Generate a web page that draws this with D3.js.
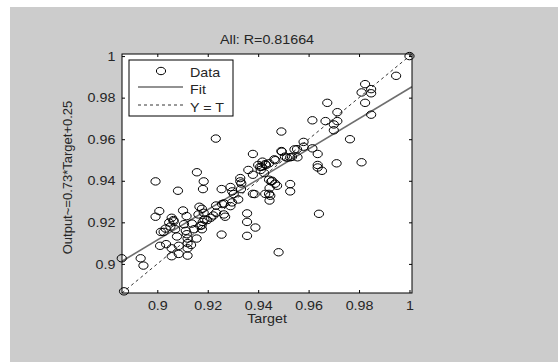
<!DOCTYPE html>
<html>
<head>
<meta charset="utf-8">
<script src="https://cdn.jsdelivr.net/npm/d3@7"></script>
<style>
  html, body { margin: 0; padding: 0; background: #fff; }
  svg { display: block; }
  text { font-family: "Liberation Sans", Arial, sans-serif; fill: #262626; }
</style>
</head>
<body>
<div id="chart"></div>
<script>
// regression plot data (target, output)
const targets = [
  1.0000, 0.9947, 0.9824, 0.9848, 0.9848, 0.9810, 0.9824, 0.9848, 0.9674, 0.9714,
  0.9714, 0.9700, 0.9667, 0.9615, 0.9700, 0.9764, 0.9492, 0.9232, 0.9580, 0.9580,
  0.9544, 0.9492, 0.9379, 0.9615, 0.9636, 0.9636, 0.9636, 0.9653, 0.9711, 0.9810,
  0.9506, 0.9527, 0.9556, 0.9464, 0.9417, 0.9400, 0.9414, 0.9431, 0.9443, 0.9410,
  0.9424, 0.9361, 0.9379, 0.9443, 0.9452, 0.9467, 0.9445, 0.9428, 0.9443, 0.9445,
  0.9527, 0.9527, 0.9379, 0.9329, 0.9329, 0.9332, 0.9321, 0.9290, 0.9297, 0.9255,
  0.9290, 0.9264, 0.9233, 0.9264, 0.9269, 0.9233, 0.9222, 0.9212, 0.9198, 0.9187,
  0.9180, 0.9170, 0.9177, 0.9255, 0.9356, 0.9356, 0.9389, 0.9356, 0.9481, 0.9641,
  0.9184, 0.9181, 0.9157, 0.9167, 0.9177, 0.9163, 0.9184, 0.9156, 0.9082, 0.8993,
  0.9008, 0.8993, 0.9014, 0.9011, 0.9033, 0.9035, 0.9057, 0.9064, 0.9047, 0.9052,
  0.9071, 0.9078, 0.9085, 0.9085, 0.9057, 0.9057, 0.9102, 0.9116, 0.9106, 0.9113,
  0.9117, 0.9120, 0.9120, 0.9120, 0.9120, 0.9134, 0.8934, 0.8945, 0.8859, 0.8868,
  0.9146, 0.9494, 0.9554, 0.9468, 0.9514, 0.9534, 0.9428, 0.9408, 0.9455, 0.9475,
  0.9448, 0.9303, 0.9257, 0.9386, 0.9333, 0.9296, 0.9176, 0.9137, 0.9065, 0.9025
];
const outputs = [
  1.0000, 0.9905, 0.9865, 0.9841, 0.9821, 0.9825, 0.9775, 0.9718, 0.9775, 0.9730,
  0.9687, 0.9671, 0.9687, 0.9691, 0.9643, 0.9600, 0.9637, 0.9603, 0.9587, 0.9564,
  0.9551, 0.9543, 0.9529, 0.9556, 0.9529, 0.9476, 0.9464, 0.9448, 0.9484, 0.9489,
  0.9516, 0.9513, 0.9513, 0.9503, 0.9492, 0.9476, 0.9468, 0.9476, 0.9484, 0.9452,
  0.9437, 0.9452, 0.9429, 0.9405, 0.9397, 0.9386, 0.9365, 0.9337, 0.9337, 0.9305,
  0.9384, 0.9349, 0.9337, 0.9413, 0.9397, 0.9360, 0.9310, 0.9370, 0.9349, 0.9360,
  0.9278, 0.9291, 0.9281, 0.9238, 0.9227, 0.9246, 0.9233, 0.9222, 0.9211, 0.9214,
  0.9202, 0.9183, 0.9167, 0.9141, 0.9243, 0.9202, 0.9175, 0.9135, 0.9056, 0.9241,
  0.9397, 0.9360, 0.9441, 0.9275, 0.9265, 0.9238, 0.9246, 0.9122, 0.9352, 0.9397,
  0.9254, 0.9227, 0.9154, 0.9087, 0.9170, 0.9095, 0.9222, 0.9211, 0.9199, 0.9180,
  0.9167, 0.9132, 0.9087, 0.9048, 0.9075, 0.9037, 0.9257, 0.9230, 0.9191, 0.9159,
  0.9143, 0.9122, 0.9100, 0.9075, 0.9040, 0.9091, 0.9027, 0.8992, 0.9027, 0.8868,
  0.9167, 0.9540, 0.9552, 0.9499, 0.9511, 0.9515, 0.9480, 0.9467, 0.9400, 0.9376,
  0.9328, 0.9336, 0.9288, 0.9336, 0.9387, 0.9296, 0.9186, 0.9194, 0.9205, 0.9154
];
const xTicks = [0.9, 0.92, 0.94, 0.96, 0.98, 1];
const yTicks = [0.9, 0.92, 0.94, 0.96, 0.98, 1];
const xTickLabels = ["0.9", "0.92", "0.94", "0.96", "0.98", "1"];
const yTickLabels = ["0.9", "0.92", "0.94", "0.96", "0.98", "1"];
const fitSlope = 0.73;
const fitIntercept = 0.2545;
const titleText = "All: R=0.81664";
const xLabel = "Target";
const yLabel = "Output~=0.73*Target+0.25";
const legendItems = ["Data", "Fit", "Y = T"];

const W = 558, H = 362;
const plot = { left: 122, right: 412, top: 54, bottom: 293 };
const lo = 0.886, hi = 1.001;
const fs = '13px';
const stretch = 'scale(1.1,1)'; // the picture is a bit wider than tall

const svg = d3.select('#chart').append('svg')
  .attr('width', W)
  .attr('height', H);

// figure background
svg.append('rect')
  .attr('x', 10).attr('y', 7)
  .attr('width', W - 10).attr('height', H - 7)
  .attr('fill', '#cccccc');

const x = d3.scaleLinear().domain([lo, hi]).range([plot.left, plot.right]);
const y = d3.scaleLinear().domain([lo, hi]).range([plot.bottom, plot.top]);

svg.append('rect')
  .attr('x', plot.left).attr('y', plot.top)
  .attr('width', plot.right - plot.left).attr('height', plot.bottom - plot.top)
  .attr('fill', '#fff');

svg.append('clipPath').attr('id', 'clip')
  .append('rect')
  .attr('x', plot.left).attr('y', plot.top)
  .attr('width', plot.right - plot.left).attr('height', plot.bottom - plot.top);

const g = svg.append('g').attr('clip-path', 'url(#clip)');

// Y = T
g.append('line')
  .attr('x1', x(lo)).attr('y1', y(lo))
  .attr('x2', x(hi)).attr('y2', y(hi))
  .attr('stroke', '#000').attr('stroke-width', 0.8)
  .attr('stroke-dasharray', '3,3');

// fit line
g.append('line')
  .attr('x1', x(lo)).attr('y1', y(fitSlope * lo + fitIntercept))
  .attr('x2', x(hi)).attr('y2', y(fitSlope * hi + fitIntercept))
  .attr('stroke', '#6e6e6e').attr('stroke-width', 1.6);

// data circles
const pts = targets.map((t, i) => [t, outputs[i]]);
svg.append('g').selectAll('ellipse')
  .data(pts)
  .enter()
  .append('ellipse')
  .attr('cx', d => x(d[0]))
  .attr('cy', d => y(d[1]))
  .attr('rx', 4.6).attr('ry', 3.7)
  .attr('fill', 'none')
  .attr('stroke', '#000')
  .attr('stroke-width', 1);

// axes, ticks pointing inward
const fmtX = (d, i) => xTickLabels[i];
const fmtY = (d, i) => yTickLabels[i];
const axB = svg.append('g').attr('transform', `translate(0,${plot.bottom})`)
  .call(d3.axisBottom(x).tickValues(xTicks).tickFormat(fmtX).tickSizeInner(-3).tickSizeOuter(0).tickPadding(8));
const axL = svg.append('g').attr('transform', `translate(${plot.left},0)`)
  .call(d3.axisLeft(y).tickValues(yTicks).tickFormat(fmtY).tickSizeInner(-3).tickSizeOuter(0).tickPadding(6));
const axT = svg.append('g').attr('transform', `translate(0,${plot.top})`)
  .call(d3.axisTop(x).tickValues(xTicks).tickFormat('').tickSizeInner(-3).tickSizeOuter(0));
const axR = svg.append('g').attr('transform', `translate(${plot.right},0)`)
  .call(d3.axisRight(y).tickValues(yTicks).tickFormat('').tickSizeInner(-3).tickSizeOuter(0));

[axB, axL, axT, axR].forEach(a => {
  a.select('.domain').remove();
  a.selectAll('line').attr('stroke', '#000');
  a.selectAll('text')
    .style('font-family', '"Liberation Sans", Arial, sans-serif')
    .style('font-size', fs)
    .attr('fill', '#262626')
    .attr('transform', stretch);
});

svg.append('rect')
  .attr('x', plot.left).attr('y', plot.top)
  .attr('width', plot.right - plot.left).attr('height', plot.bottom - plot.top)
  .attr('fill', 'none').attr('stroke', '#000').attr('stroke-width', 1);

// titles
const cx = (plot.left + plot.right) / 2;
svg.append('text').attr('transform', `translate(${cx},44) ${stretch}`)
  .attr('text-anchor', 'middle').style('font-size', fs).text(titleText);
svg.append('text').attr('transform', `translate(${cx},323) ${stretch}`)
  .attr('text-anchor', 'middle').style('font-size', fs).text(xLabel);
svg.append('text')
  .attr('transform', `translate(72,${(plot.top + plot.bottom) / 2 + 4}) rotate(-90)`)
  .attr('text-anchor', 'middle').style('font-size', fs).text(yLabel);

// legend
const lg = svg.append('g');
lg.append('rect')
  .attr('x', 129).attr('y', 60).attr('width', 104).attr('height', 56)
  .attr('fill', '#fff').attr('stroke', '#000').attr('stroke-width', 1);
lg.append('ellipse').attr('cx', 161).attr('cy', 71).attr('rx', 4.6).attr('ry', 3.7)
  .attr('fill', 'none').attr('stroke', '#000').attr('stroke-width', 1);
lg.append('line').attr('x1', 138).attr('x2', 183).attr('y1', 87).attr('y2', 87)
  .attr('stroke', '#6e6e6e').attr('stroke-width', 1.6);
lg.append('line').attr('x1', 138).attr('x2', 183).attr('y1', 105).attr('y2', 105)
  .attr('stroke', '#000').attr('stroke-width', 0.8).attr('stroke-dasharray', '3,3');
legendItems.forEach((t, i) => {
  lg.append('text').attr('transform', `translate(190,${76.5 + i * 17.5}) ${stretch}`)
    .style('font-size', fs).text(t);
});
</script>
</body>
</html>
